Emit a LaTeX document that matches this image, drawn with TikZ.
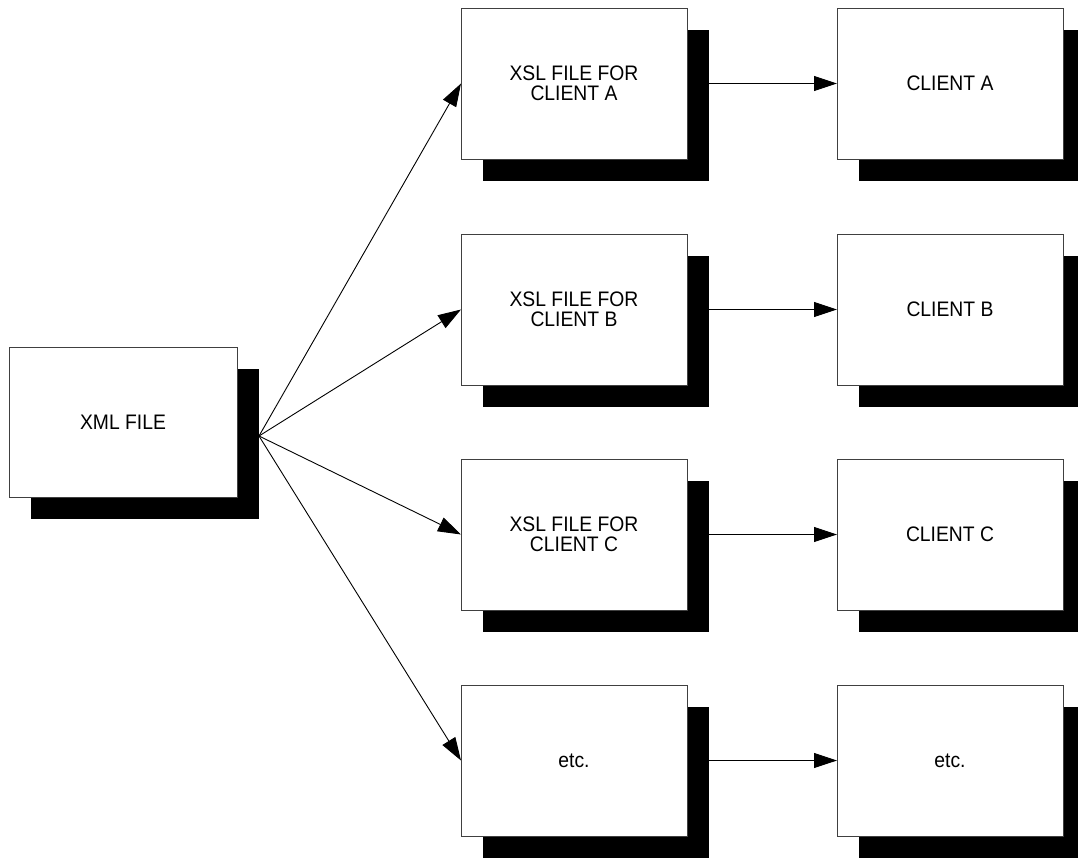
\documentclass[tikz,border=0pt]{standalone}
\usepackage{fontspec}
\setmainfont{Liberation Sans}
\newfontfamily\labelfont[FakeStretch=0.92]{Liberation Sans}
\usetikzlibrary{arrows.meta,shadows}
\begin{document}
\begin{tikzpicture}[x=1pt,y=-1pt,
  box/.style={draw=black!75, line width=0.8pt, fill=white, rectangle,
    minimum width=226pt, minimum height=151pt, inner sep=0pt, outer sep=0pt,
    align=center, font=\labelfont\fontsize{21}{20}\selectfont,
    drop shadow={shadow xshift=22pt, shadow yshift=-22pt, fill=black, opacity=1}},
  link/.style={line width=0.9pt, -{Triangle[length=23pt,width=15pt]}}]
\useasboundingbox (0,0) rectangle (1078,859);
\clip (0,0) rectangle (1078,859);
% source document
\node[box, minimum width=228pt, minimum height=150pt] (xml) at (123,422) {XML FILE};
% style sheets
\node[box] (xa) at (574,83.5) {XSL FILE FOR\\CLIENT A};
\node[box] (xb) at (574,309.5) {XSL FILE FOR\\CLIENT B};
\node[box] (xc) at (574,534.5) {XSL FILE FOR\\CLIENT C};
\node[box] (xd) at (574,760.5) {etc.};
% clients
\node[box] (ca) at (950,83.5) {CLIENT A};
\node[box] (cb) at (950,309.5) {CLIENT B};
\node[box] (cc) at (950,534.5) {CLIENT C};
\node[box] (cd) at (950,760.5) {etc.};
% fan-out point on the edge of the source shadow
\coordinate (fan) at (259,436);
\foreach \t in {xa,xb,xc,xd}
  \draw[link] (fan) -- (\t.west);
\foreach \s/\t in {xa/ca,xb/cb,xc/cc,xd/cd}
  \draw[link] ([xshift=22pt]\s.east) -- (\t.west);
\end{tikzpicture}
\end{document}
